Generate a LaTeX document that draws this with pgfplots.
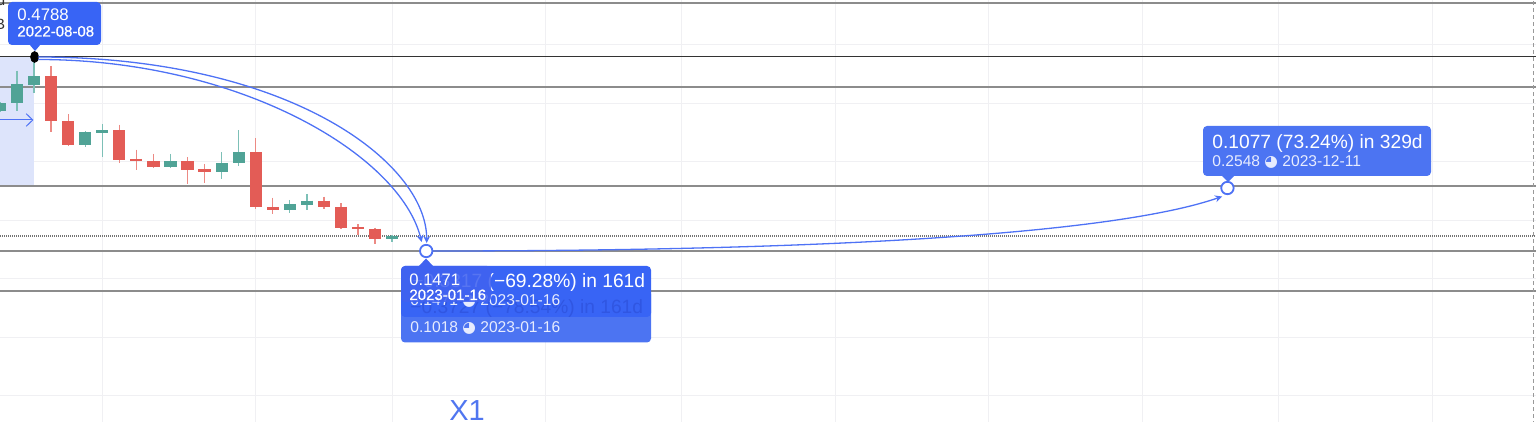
\documentclass[border=0pt]{standalone}
\usepackage{pgfplots}
\pgfplotsset{compat=1.18}
\usepackage{pgfplotstable}
\usepackage{fontspec}
\setmainfont{Liberation Sans}
\newfontfamily\medfont[FakeBold=0.7]{Liberation Sans}
\newfontfamily\symfont{DejaVu Sans}
\usetikzlibrary{arrows.meta}

\definecolor{upcol}{RGB}{80,163,150}
\definecolor{upwick}{RGB}{125,192,183}
\definecolor{dncol}{RGB}{227,92,86}
\definecolor{dnwick}{RGB}{236,138,132}
\definecolor{tvblue}{RGB}{56,100,245}
\definecolor{tvblue2}{RGB}{76,116,242}
\definecolor{tvblue3}{RGB}{64,98,240}
\definecolor{faintc}{RGB}{48,86,226}
\definecolor{arcblue}{RGB}{78,114,245}
\definecolor{selfill}{RGB}{221,228,251}
\definecolor{gridc}{RGB}{240,240,243}
\definecolor{levelc}{RGB}{140,140,140}
\definecolor{x1blue}{RGB}{80,118,240}

\newcommand{\fs}[1]{\fontsize{#1}{#1}\selectfont}

% weekly candles, w = weeks after 2022-08-08
\pgfplotstableread{
w  o      h      l      c
-2 0.3870 0.4010 0.3850 0.3996
-1 0.4006 0.4553 0.3865 0.4321
0  0.4314 0.4788 0.4167 0.4458
3  0.3278 0.3523 0.3249 0.3506
4  0.3494 0.3642 0.3073 0.3535
8  0.2902 0.3130 0.2885 0.3005
11 0.2827 0.3159 0.2702 0.2971
12 0.2971 0.3535 0.2930 0.3159
15 0.2172 0.2343 0.2116 0.2270
16 0.2263 0.2446 0.2172 0.2331
21 0.1671 0.1745 0.1630 0.1733
}\upweeks

\pgfplotstableread{
w  o      h      l      c
1  0.4458 0.4634 0.3500 0.3688
2  0.3693 0.3808 0.3270 0.3278
5  0.3535 0.3630 0.2971 0.3027
6  0.3044 0.3203 0.2856 0.3005
7  0.3005 0.3130 0.2885 0.2902
9  0.3005 0.3073 0.2612 0.2856
10 0.2868 0.2959 0.2639 0.2827
13 0.3159 0.3398 0.2189 0.2218
14 0.2224 0.2383 0.2104 0.2172
17 0.2331 0.2400 0.2184 0.2229
18 0.2229 0.2287 0.1853 0.1870
19 0.1882 0.1928 0.1750 0.1842
20 0.1853 0.1870 0.1591 0.1677
}\downweeks

\begin{document}
\begin{tikzpicture}
\begin{axis}[
    at={(0,0)}, anchor=south west,
    scale only axis, width=768pt, height=211pt,
    xmin=-2, xmax=88.1, ymin=-0.1452, ymax=0.5762,
    axis line style={draw=none},
    xtick={4,13,21,30,38,47,56,65,73,82},
    ytick={-0.1,0,0.1,0.2,0.3,0.4,0.5},
    xticklabels={}, yticklabels={},
    major tick length=0pt,
    grid=major, major grid style={gridc, line width=0.5pt},
]

% selected date range
\addplot[fill=selfill, draw=none] coordinates {(-2.2,0.4788) (0,0.4788) (0,0.2600) (-2.2,0.2600)} -- cycle;

% horizontal levels
\addplot[levelc, line width=1pt] coordinates {(-2,0.5711) (88.1,0.5711)};
\addplot[black!80, line width=0.5pt] coordinates {(-2,0.4788) (88.1,0.4788)};
\addplot[levelc, line width=0.8pt] coordinates {(-2,0.4275) (88.1,0.4275)};
\addplot[levelc, line width=0.8pt] coordinates {(-2,0.2583) (88.1,0.2583)};
\addplot[levelc, line width=0.8pt] coordinates {(-2,0.1471) (88.1,0.1471)};
\addplot[levelc, line width=0.8pt] coordinates {(-2,0.0788) (88.1,0.0788)};
% last price
\addplot[black!55, line width=0.7pt, dash pattern=on 0.5pt off 0.5pt] coordinates {(-2,0.1728) (88.1,0.1728)};
% right edge
\addplot[black!40, line width=0.5pt, dash pattern=on 2pt off 1.5pt] coordinates {(87.98,-0.15) (87.98,0.58)};

% wicks
\addplot[forget plot, draw=none, mark=none, error bars/.cd, y dir=minus, y explicit, error mark=none,
    error bar style={draw=upwick, line width=0.65pt}]
    table[x=w, y=h, y error minus expr=\thisrow{h}-\thisrow{l}] {\upweeks};
\addplot[forget plot, draw=none, mark=none, error bars/.cd, y dir=minus, y explicit, error mark=none,
    error bar style={draw=dnwick, line width=0.65pt}]
    table[x=w, y=h, y error minus expr=\thisrow{h}-\thisrow{l}] {\downweeks};
% bodies
\addplot[forget plot, draw=none, mark=none, error bars/.cd, y dir=minus, y explicit, error mark=none,
    error bar style={draw=upcol, line width=6.1pt}]
    table[x=w, y=c, y error minus expr=\thisrow{c}-\thisrow{o}] {\upweeks};
\addplot[forget plot, draw=none, mark=none, error bars/.cd, y dir=minus, y explicit, error mark=none,
    error bar style={draw=dncol, line width=6.1pt}]
    table[x=w, y=o, y error minus expr=\thisrow{o}-\thisrow{c}] {\downweeks};

% anchor points
\addplot[only marks, mark=*, mark size=2pt, mark options={black, yscale=1.35}] coordinates {(0.03,0.4788)};
\addplot[only marks, mark=*, mark size=3.1pt, mark options={fill=white, draw=arcblue, line width=0.9pt}]
    coordinates {(23,0.1471) (70,0.2548)};
\end{axis}

% annotations, in pixels of the screenshot (origin top left)
\begin{scope}[x=0.5pt, y=-0.5pt, shift={(0pt,211pt)}]
\node[anchor=base east, inner sep=0, text=black!80, font=\fs{7.5pt}] at (5.5,6) {d};
\node[anchor=base east, inner sep=0, text=black!80, font=\fs{7.5pt}] at (5.5,30) {B};

\draw[arcblue, line width=0.5pt, -{Straight Barb[length=3.3pt,width=6.3pt]}] (0,120) -- (33.5,120);

\draw[arcblue, line width=0.65pt, -{Stealth[length=3.5pt,width=3.5pt]}]
    (38,57) .. controls (290,57) and (426.7,163) .. (426.7,243);
\draw[arcblue, line width=0.65pt, -{Stealth[length=3.5pt,width=3.5pt]}]
    (38,59.5) .. controls (240,59.5) and (400,155) .. (421.7,242);
\draw[arcblue, line width=0.65pt, -{Stealth[length=3.5pt,width=3.5pt]}]
    (432.5,251) .. controls (850,251) and (1120,232) .. (1222,196.5);

% top label
\fill[tvblue, rounded corners=2pt] (8,2) rectangle (101,45);
\fill[tvblue] (29,44) -- (35,51) -- (41,44) -- cycle;
\node[anchor=base west, inner sep=0, white, font=\fs{8.4pt}] at (17,21) {0.4788};
\node[anchor=base west, inner sep=0, white, font=\fs{7.5pt}\medfont] at (17,36.5) {2022-08-08};

% stacked labels at 2023-01-16
\fill[tvblue2, rounded corners=2pt] (401,290) rectangle (651,342.5);
\fill[tvblue, rounded corners=2pt] (401,266) rectangle (651,317);
\node[anchor=base west, inner sep=0, text=faintc, font=\fs{9.6pt}] at (410,314) {−0.3727 (−78.54\%) in 161d};
\node[anchor=base west, inner sep=0, white, font=\fs{9.6pt}] at (412,288) {−0.3317 (−69.28\%) in 161d};
\node[anchor=base west, inner sep=0, text=white!88!tvblue, font=\fs{7.8pt}] at (410,305.5) {0.1471 {\symfont ◕} 2023-01-16};
\node[anchor=base west, inner sep=0, text=white!88!tvblue, font=\fs{7.8pt}] at (410,333) {0.1018 {\symfont ◕} 2023-01-16};
\fill[tvblue3, fill opacity=0.88, rounded corners=2pt] (401,266) rectangle (491,302);
\fill[tvblue3] (419,266) -- (426,258.5) -- (433,266) -- cycle;
\node[anchor=base west, inner sep=0, white, font=\fs{8.3pt}] at (409,286) {0.1471};
\node[anchor=base west, inner sep=0, white, font=\fs{7.5pt}\medfont] at (409,300) {2023-01-16};

% label at 2023-12-11
\fill[tvblue2, rounded corners=2pt] (1203,126) rectangle (1431,176);
\fill[tvblue2] (1221,175) -- (1228,182) -- (1235,175) -- cycle;
\node[anchor=base west, inner sep=0, white, font=\fs{9.6pt}] at (1212,149) {0.1077 (73.24\%) in 329d};
\node[anchor=base west, inner sep=0, text=white!88!tvblue, font=\fs{7.8pt}] at (1212,167) {0.2548 {\symfont ◕} 2023-12-11};

\node[anchor=base west, inner sep=0, text=x1blue, font=\fs{14.5pt}] at (449,421) {X1};
\end{scope}

\pgfresetboundingbox
\path[use as bounding box] (0,0) rectangle (768pt,211pt);
\end{tikzpicture}
\end{document}
